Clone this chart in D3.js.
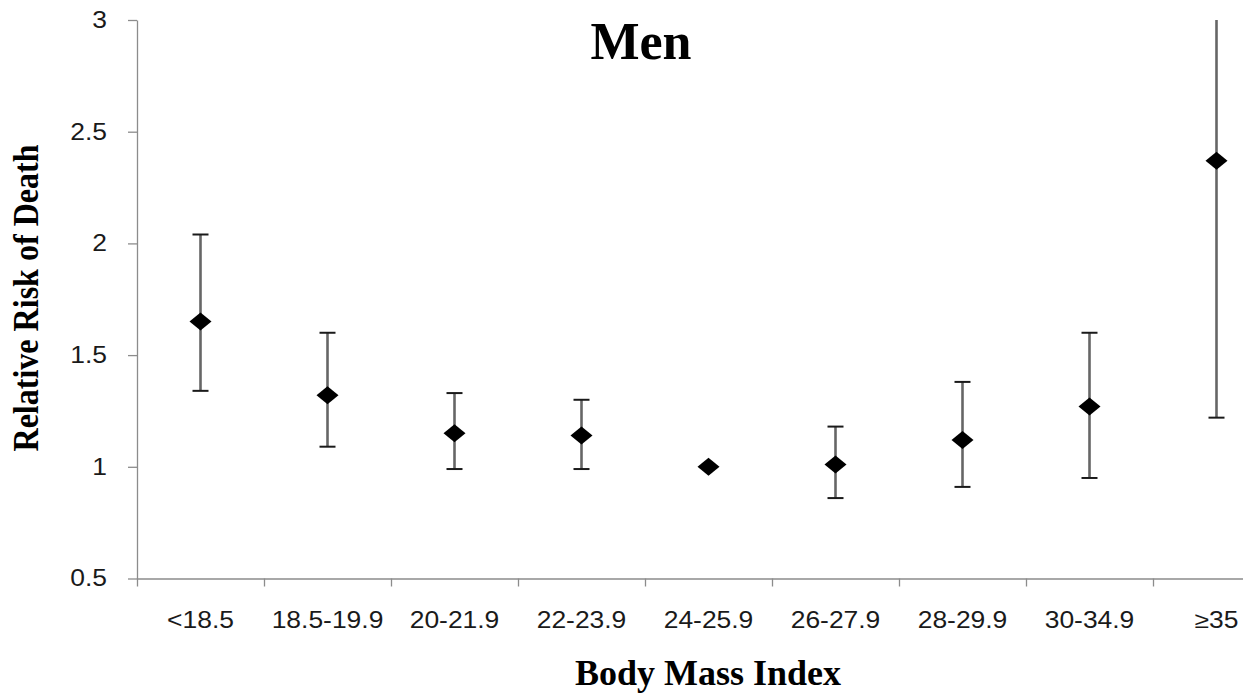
<!DOCTYPE html>
<html>
<head>
<meta charset="utf-8">
<title>Men - Relative Risk of Death by BMI</title>
<script src="https://d3js.org/d3.v7.min.js"></script>
<style>
    body { margin: 0; background: #ffffff; }
    .tick-text { font-family: "Liberation Sans", Arial, sans-serif; font-size: 23px; fill: #1a1a1a; }
    .axis-title { font-family: "Liberation Serif", "Times New Roman", serif; font-weight: bold; fill: #000; }
</style>
</head>
<body>
<div id="chart"></div>
<script>
// chart data
var categories = ["<18.5", "18.5-19.9", "20-21.9", "22-23.9", "24-25.9", "26-27.9", "28-29.9", "30-34.9", "\u226535"];
var relRisk = [1.65, 1.32, 1.15, 1.14, 1.00, 1.01, 1.12, 1.27, 2.37];
var ciLower = [1.34, 1.09, 0.99, 0.99, null, 0.86, 0.91, 0.95, 1.22];
var ciUpper = [2.04, 1.60, 1.33, 1.30, null, 1.18, 1.38, 1.60, 4.00];
var yTicks = [0.5, 1, 1.5, 2, 2.5, 3];
var yTickLabels = ["0.5", "1", "1.5", "2", "2.5", "3"];

var svgWidth = 1243;
var svgHeight = 693;

var margin = { top: 20, left: 137 };
var plotHeight = 558.5;
var step = 127;
var stretch = 1.15; // tick labels look a bit wide in the reference

var svg = d3.select("#chart")
    .append("svg")
    .attr("width", svgWidth)
    .attr("height", svgHeight);

// scales
var xScale = d3.scaleBand()
    .domain(categories)
    .range([margin.left, margin.left + step * categories.length])
    .paddingInner(0)
    .paddingOuter(0);

var xEdges = d3.scaleLinear()
    .domain([0, categories.length])
    .range([margin.left, margin.left + step * categories.length]);

var yScale = d3.scaleLinear()
    .domain([0.5, 3])
    .range([margin.top + plotHeight, margin.top]);

var axisColor = "#8c8c8c";

// y axis
var leftAxis = d3.axisLeft(yScale)
    .tickValues(yTicks)
    .tickFormat(function(d, i) { return yTickLabels[i]; })
    .tickSize(9)
    .tickSizeOuter(0)
    .tickPadding(21);

var yAxisG = svg.append("g")
    .attr("transform", `translate(${margin.left}, 0)`)
    .call(leftAxis);

// x axis: tick marks at the category boundaries
var edgeAxis = d3.axisBottom(xEdges)
    .tickValues(d3.range(1, categories.length))
    .tickFormat("")
    .tickSize(8)
    .tickSizeOuter(8);

var xAxisG = svg.append("g")
    .attr("transform", `translate(0, ${yScale(0.5)})`)
    .call(edgeAxis);

// x labels centred in each category
var labelAxis = d3.axisBottom(xScale)
    .tickSize(0)
    .tickPadding(33);

var xLabelG = svg.append("g")
    .attr("transform", `translate(0, ${yScale(0.5)})`)
    .call(labelAxis);
xLabelG.select(".domain").remove();

[yAxisG, xAxisG].forEach(function(g) {
    g.select(".domain").attr("stroke", axisColor).attr("stroke-width", 1.3);
    g.selectAll(".tick line").attr("stroke", axisColor).attr("stroke-width", 1.3);
});

// stretch the tick labels
xLabelG.selectAll("text")
    .attr("class", "tick-text")
    .attr("transform", `scale(${stretch},1)`);

yAxisG.selectAll("text")
    .attr("class", "tick-text")
    .attr("x", -30 / stretch)
    .attr("transform", `scale(${stretch},1)`);

yAxisG.attr("font-size", null).attr("font-family", null);
xLabelG.attr("font-size", null).attr("font-family", null);

// clip so the long bar stops at the top of the axis
svg.append("clipPath")
    .attr("id", "plot-clip")
    .append("rect")
    .attr("x", margin.left)
    .attr("y", margin.top)
    .attr("width", svgWidth - margin.left)
    .attr("height", plotHeight);

var points = categories.map(function(c, i) {
    return { cat: c, rr: relRisk[i], lo: ciLower[i], hi: ciUpper[i] };
});

var barG = svg.append("g").attr("clip-path", "url(#plot-clip)");
var withCI = points.filter(function(d) { return d.lo !== null; });

// error bars
barG.selectAll("line.whisker")
    .data(withCI)
    .enter()
    .append("line")
    .attr("class", "whisker")
    .attr("x1", function(d) { return xScale(d.cat) + xScale.bandwidth() / 2; })
    .attr("x2", function(d) { return xScale(d.cat) + xScale.bandwidth() / 2; })
    .attr("y1", function(d) { return yScale(d.lo); })
    .attr("y2", function(d) { return yScale(d.hi); })
    .attr("stroke", "#666666")
    .attr("stroke-width", 2.6);

// caps
["lo", "hi"].forEach(function(key) {
    barG.selectAll("line.cap-" + key)
        .data(withCI)
        .enter()
        .append("line")
        .attr("class", "cap-" + key)
        .attr("x1", function(d) { return xScale(d.cat) + xScale.bandwidth() / 2 - 8; })
        .attr("x2", function(d) { return xScale(d.cat) + xScale.bandwidth() / 2 + 8; })
        .attr("y1", function(d) { return yScale(d[key]); })
        .attr("y2", function(d) { return yScale(d[key]); })
        .attr("stroke", "#1a1a1a")
        .attr("stroke-width", 2);
});

// diamond markers
var diamond = "M0,-9L11,0L0,9L-11,0Z";
svg.selectAll("path.marker")
    .data(points)
    .enter()
    .append("path")
    .attr("class", "marker")
    .attr("d", diamond)
    .attr("transform", function(d) {
        return `translate(${xScale(d.cat) + xScale.bandwidth() / 2}, ${yScale(d.rr)})`;
    })
    .attr("fill", "#000");

// title
svg.append("text")
    .attr("class", "axis-title")
    .attr("x", 641)
    .attr("y", 59)
    .attr("text-anchor", "middle")
    .style("font-size", "52px")
    .text("Men");

// y axis title
svg.append("text")
    .attr("class", "axis-title")
    .attr("transform", "translate(38, 298) rotate(-90)")
    .attr("text-anchor", "middle")
    .attr("textLength", 307)
    .attr("lengthAdjust", "spacingAndGlyphs")
    .style("font-size", "36px")
    .text("Relative Risk of Death");

// x axis title
svg.append("text")
    .attr("class", "axis-title")
    .attr("x", 708)
    .attr("y", 685)
    .attr("text-anchor", "middle")
    .style("font-size", "36px")
    .text("Body Mass Index");
</script>
</body>
</html>
